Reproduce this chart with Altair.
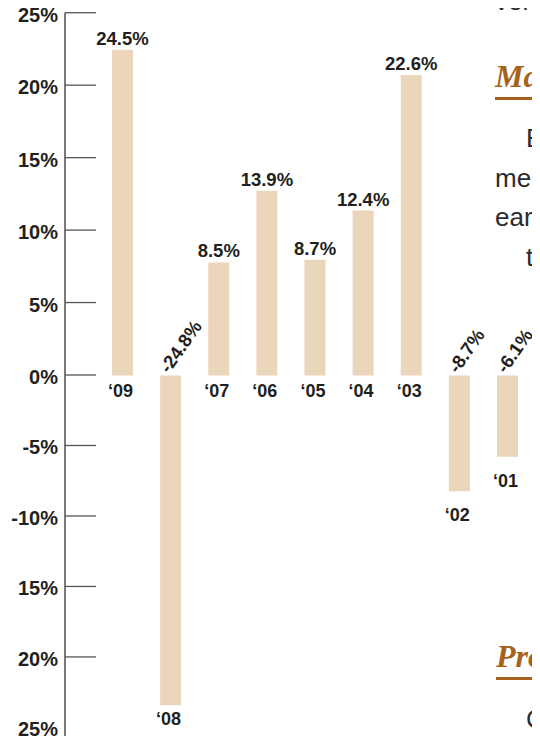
import altair as alt
import pandas as pd

# ---- data ----
years = ["\u201809", "\u201808", "\u201807", "\u201806", "\u201805", "\u201804", "\u201803", "\u201802", "\u201801"]
returns = [24.5, -24.8, 8.5, 13.9, 8.7, 12.4, 22.6, -8.7, -6.1]
value_labels = ["24.5%", "-24.8%", "8.5%", "13.9%", "8.7%", "12.4%", "22.6%", "-8.7%", "-6.1%"]

tick_values = [25, 20, 15, 10, 5, 0, -5, -10, -15, -20, -25]
tick_labels = ["25%", "20%", "15%", "10%", "5%", "0%", "-5%", "-10%", "15%", "20%", "25%"]

# fragments of the surrounding page text
body_words = ["vers", "E", "mer", "earn", "th", "C"]
heading_words = ["Ma", "Pro"]

# ---- styles ----
BAR = "#EBD5BB"
INK = "#231F20"
BROWN = "#A5621C"
NUM_FONT = "Liberation Sans, Arial, Helvetica, sans-serif"
SERIF = "Liberation Serif, Times New Roman, serif"

bars_df = pd.DataFrame({"year": years, "value": returns, "label": value_labels})
ticks_df = pd.DataFrame({"value": tick_values, "label": tick_labels})
axis_df = pd.DataFrame({"top": [max(tick_values)], "bottom": [-25.75]})

# axis scale (as printed) and bar scale (as drawn) differ in the original
axis_scale = alt.Scale(domain=[-25.75, 0, 25], range=[730, 367, 4.7], nice=False, zero=False)
bar_scale = alt.Scale(domain=[-25, 25], range=[700, 35], nice=False, zero=False)
x_scale = alt.Scale(range=[47, 453], paddingInner=0.5636, paddingOuter=0)

# ---- axis layer ----
axis_line = alt.Chart(axis_df).mark_rule(color="#333333", strokeWidth=1.3).encode(
    x=alt.value(0),
    y=alt.Y("top:Q", scale=axis_scale, axis=None),
    y2="bottom:Q",
)
tick_rules = alt.Chart(ticks_df).transform_filter("datum.value > -25").mark_rule(
    color="#555555", strokeWidth=1.3
).encode(
    x=alt.value(0), x2=alt.value(31),
    y=alt.Y("value:Q", scale=axis_scale, axis=None),
)
tick_text = alt.Chart(ticks_df).mark_text(
    align="right", baseline="middle", dy=3, font=NUM_FONT, fontSize=20,
    fontWeight="bold", color=INK
).encode(
    x=alt.value(-7),
    y=alt.Y("value:Q", scale=axis_scale, axis=None),
    text="label:N",
)
axis_layer = alt.layer(axis_line, tick_rules, tick_text)

# ---- bar layer ----
X = alt.X("year:N", sort=years, scale=x_scale, axis=None)
base = alt.Chart(bars_df).transform_calculate(zero="0", ly="max(datum.value, -24)")

bars = base.mark_bar(color=BAR).encode(
    x=X,
    y=alt.Y("value:Q", scale=bar_scale, axis=None),
    y2=alt.Y2("zero:Q"),
)
pos_vals = base.transform_filter("datum.value >= 0").mark_text(
    baseline="alphabetic", dy=-5, font=NUM_FONT, fontSize=18.5, fontWeight="bold", color=INK
).encode(x=X, y=alt.Y("value:Q", scale=bar_scale, axis=None), text="label:N")
neg_vals = base.transform_filter("datum.value < 0").mark_text(
    align="left", baseline="middle", angle=305, dx=0, dy=-8,
    font=NUM_FONT, fontSize=18.5, fontWeight="bold", color=INK
).encode(x=X, y=alt.Y("zero:Q", scale=bar_scale, axis=None), text="label:N")
pos_cats = base.transform_filter("datum.value >= 0").mark_text(
    baseline="alphabetic", dx=-2, dy=21.5, font=NUM_FONT, fontSize=18, fontWeight="bold", color=INK
).encode(x=X, y=alt.Y("zero:Q", scale=bar_scale, axis=None), text="year:N")
neg_cats = base.transform_filter("datum.value < 0").mark_text(
    baseline="alphabetic", dx=-2, dy=30, font=NUM_FONT, fontSize=18, fontWeight="bold", color=INK
).encode(x=X, y=alt.Y("ly:Q", scale=bar_scale, axis=None), text="year:N")
bar_layer = alt.layer(bars, pos_vals, neg_vals, pos_cats, neg_cats)

# ---- page text fragments on the right ----
def word(w, x, y, **kw):
    return alt.Chart(pd.DataFrame({"t": [w]})).mark_text(
        align="left", baseline="alphabetic", **kw
    ).encode(x=alt.value(x), y=alt.value(y), text="t:N")

body_kw = dict(font=NUM_FONT, fontSize=26, color="#2B2B2B")
head_kw = dict(font=SERIF, fontSize=32, fontStyle="italic", fontWeight="bold", color=BROWN)
decor = [
    word(body_words[0], 430, 2, **body_kw),
    word(heading_words[0], 430, 79, **head_kw),
    word(body_words[1], 461, 139, **body_kw),
    word(body_words[2], 430, 179, **body_kw),
    word(body_words[3], 430, 218, **body_kw),
    word(body_words[4], 461, 258, **body_kw),
    word(heading_words[1], 431, 659, **head_kw),
    word(body_words[5], 461, 720, **body_kw),
]
underlines = [
    alt.Chart(pd.DataFrame({"a": [0]})).mark_rule(color=BROWN, strokeWidth=3).encode(
        x=alt.value(430), x2=alt.value(480), y=alt.value(90.5)),
    alt.Chart(pd.DataFrame({"a": [0]})).mark_rule(color=BROWN, strokeWidth=3).encode(
        x=alt.value(431), x2=alt.value(480), y=alt.value(670.5)),
]

chart = alt.layer(axis_layer, bar_layer, *decor, *underlines).resolve_scale(
    y="independent"
).properties(
    width=467, height=728,
    padding={"left": 57, "top": 0, "right": 0, "bottom": 0},
    autosize=alt.AutoSizeParams(type="none"),
).configure_view(stroke=None)

chart.save("out.html", embed_options={"renderer": "svg", "actions": False})
